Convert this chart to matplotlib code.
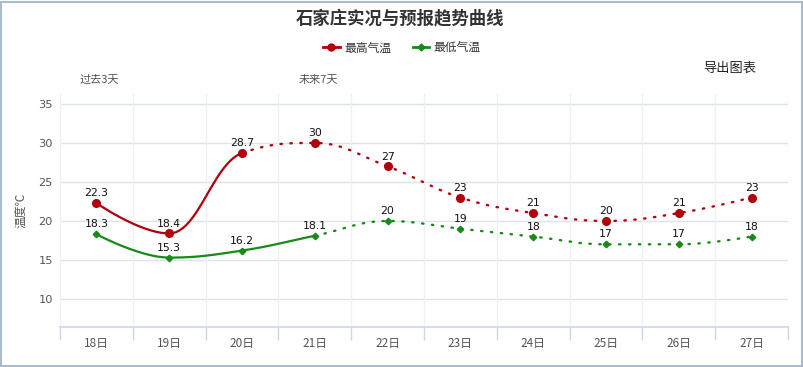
import numpy as np
import matplotlib
matplotlib.use("Agg")
import matplotlib.pyplot as plt
from matplotlib.lines import Line2D
from matplotlib.patches import Rectangle

plt.rcParams['font.family'] = ['Noto Sans CJK SC', 'DejaVu Sans']

days = ["18日", "19日", "20日", "21日", "22日", "23日", "24日", "25日", "26日", "27日"]
high = [22.3, 18.4, 28.7, 30, 27, 23, 21, 20, 21, 23]
low = [18.3, 15.3, 16.2, 18.1, 20, 19, 18, 17, 17, 18]
high_obs_end = 2   # last observed index (solid) for high
low_obs_end = 3    # last observed index (solid) for low
yticks = [10, 15, 20, 25, 30, 35]

title = "石家庄实况与预报趋势曲线"
high_name = "最高气温"
low_name = "最低气温"
ylabel = "温度℃"

RED = "#b0000b"
GREEN = "#178a17"


def hc_spline(xs, ys, smoothing=1.5):
    n = len(xs)
    lc, rc = [], []
    for i in range(n):
        x, y = xs[i], ys[i]
        if i == 0 or i == n - 1:
            lc.append((x, y)); rc.append((x, y)); continue
        lx, ly = xs[i - 1], ys[i - 1]
        nx, ny = xs[i + 1], ys[i + 1]
        d = smoothing + 1
        lcx = (smoothing * x + lx) / d; lcy = (smoothing * y + ly) / d
        rcx = (smoothing * x + nx) / d; rcy = (smoothing * y + ny) / d
        if rcx != lcx:
            corr = ((rcy - lcy) * (rcx - x)) / (rcx - lcx) + y - rcy
            lcy += corr; rcy += corr
        if lcy > max(ly, y):
            lcy = max(ly, y); rcy = 2 * y - lcy
        elif lcy < min(ly, y):
            lcy = min(ly, y); rcy = 2 * y - lcy
        if rcy > max(ny, y):
            rcy = max(ny, y); lcy = 2 * y - rcy
        elif rcy < min(ny, y):
            rcy = min(ny, y); lcy = 2 * y - rcy
        lc.append((lcx, lcy)); rc.append((rcx, rcy))
    segs = []
    t = np.linspace(0, 1, 60)
    for i in range(n - 1):
        p0 = np.array([xs[i], ys[i]]); p1 = np.array(rc[i])
        p2 = np.array(lc[i + 1]); p3 = np.array([xs[i + 1], ys[i + 1]])
        pts = ((1 - t) ** 3)[:, None] * p0 + (3 * (1 - t) ** 2 * t)[:, None] * p1 \
            + (3 * (1 - t) * t ** 2)[:, None] * p2 + (t ** 3)[:, None] * p3
        segs.append(pts)
    return segs


def draw_series(ax, vals, split, color, marker, ms):
    xs = list(range(len(vals)))
    segs = hc_spline(xs, vals)
    solid = np.vstack(segs[:split])
    dotted = np.vstack(segs[split:])
    ax.plot(solid[:, 0], solid[:, 1], color=color, lw=1.6, solid_capstyle='round', zorder=3)
    ax.plot(dotted[:, 0], dotted[:, 1], color=color, lw=1.7, linestyle=(0, (0.6, 3.6)),
            dash_capstyle='round', zorder=3)
    ax.plot(xs, vals, linestyle='none', marker=marker, ms=ms, color=color,
            markeredgecolor=color, zorder=4)
    for x, v in zip(xs, vals):
        lab = ("%g" % v)
        ax.annotate(lab, (x, v), xytext=(0, 3.5), textcoords='offset points',
                    ha='center', va='bottom', fontsize=7.8, color='#111111',
                    family=['DejaVu Sans'], zorder=5)


W, H = 804, 367
fig = plt.figure(figsize=(W / 100, H / 100), dpi=100)
ax = fig.add_axes([60 / W, 1 - 327 / H, (788 - 60) / W, (327 - 94) / H])

ax.set_xlim(-0.5, len(days) - 0.5)
ax.set_ylim(6.4, 36.28)

for yv in yticks:
    ax.axhline(yv, color='#dde3ea', lw=1, zorder=1)
for b in np.arange(-0.5, len(days), 1.0):
    ax.axvline(b, color='#eef0f3', lw=1, zorder=1)

draw_series(ax, high, high_obs_end, RED, 'o', 5.5)
draw_series(ax, low, low_obs_end, GREEN, 'D', 3.3)

for s in ['top', 'right', 'left']:
    ax.spines[s].set_visible(False)
ax.spines['bottom'].set_color('#ccd6eb')
ax.spines['bottom'].set_linewidth(1.2)

ax.set_xticks(range(len(days)))
ax.set_xticklabels(days, fontsize=8.5, color='#555555')
ax.tick_params(axis='x', length=0, pad=7)
ax.set_xticks(np.arange(-0.5, len(days), 1.0), minor=True)
ax.tick_params(axis='x', which='minor', length=9, color='#ccd6eb', width=1)

ax.set_yticks(yticks)
ax.set_yticklabels([str(v) for v in yticks], fontsize=8.2, color='#555555',
                   family=['DejaVu Sans'])
ax.tick_params(axis='y', length=0, pad=5)
ax.set_ylabel(ylabel, fontsize=8.5, color='#555555')
ax.yaxis.set_label_coords((27 - 60) / 728, 0.5)

fig.text(400 / W, 1 - 18 / H, title, ha='center', va='center', fontsize=12.5,
         fontweight='bold', color='#333333')

handles = [Line2D([0], [0], color=RED, lw=2, marker='o', ms=5),
           Line2D([0], [0], color=GREEN, lw=2, marker='D', ms=3.5)]
fig.legend(handles, [high_name, low_name], loc='center', bbox_to_anchor=(402 / W, 1 - 48 / H),
           ncol=2, frameon=False, fontsize=8.5, handlelength=1.4, handletextpad=0.4,
           columnspacing=1.8, labelcolor='#333333')

fig.text(730 / W, 1 - 68 / H, "导出图表", ha='center', va='center', fontsize=9.5, color='#222222')
fig.text(99 / W, 1 - 80 / H, "过去3天", ha='center', va='center', fontsize=8, color='#555555')
fig.text(318 / W, 1 - 80 / H, "未来7天", ha='center', va='center', fontsize=8, color='#555555')

fig.patches.append(Rectangle((1.5 / W, 1.5 / H), (W - 3) / W, (H - 3) / H, transform=fig.transFigure,
                             fill=False, edgecolor='#a9bccf', lw=1.5))

fig.savefig("out.png", dpi=100)
